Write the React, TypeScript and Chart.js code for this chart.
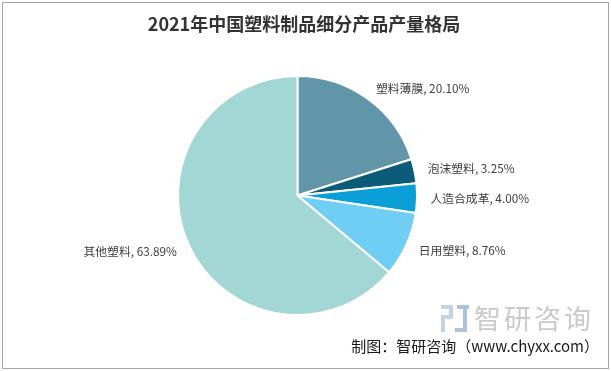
import React, { useEffect, useRef } from "react";
import { Chart, registerables } from "chart.js";

Chart.register(...registerables);

const categories = ["塑料薄膜", "泡沫塑料", "人造合成革", "日用塑料", "其他塑料"];
const shares = [20.1, 3.25, 4.0, 8.76, 63.89];
const colors = ["#6195a8", "#0d5b7b", "#0a9fd6", "#70cdf3", "#a3d7d6"];
const titleText = "2021年中国塑料制品细分产品产量格局";
const sourceText = "制图：智研咨询（www.chyxx.com）";
const logoText = "智研咨询";

const FONT = '"Microsoft YaHei", "Noto Sans CJK SC", sans-serif';

const decorPlugin = {
  id: "decor",
  beforeDraw(chart: any) {
    const { ctx, width, height } = chart;
    ctx.save();
    ctx.fillStyle = "#ffffff";
    ctx.fillRect(0, 0, width, height);
    ctx.strokeStyle = "#a6a6a6";
    ctx.lineWidth = 1;
    ctx.strokeRect(2.5, 2.5, width - 5, height - 5);
    ctx.restore();
  },
  afterDraw(chart: any) {
    const { ctx } = chart;
    ctx.save();
    // title
    ctx.fillStyle = "#333333";
    ctx.font = `bold 18px ${FONT}`;
    ctx.textAlign = "center";
    ctx.textBaseline = "middle";
    ctx.fillText(titleText, 304, 24);

    // labels
    const meta = chart.getDatasetMeta(0);
    ctx.font = `11.8px ${FONT}`;
    ctx.fillStyle = "#404040";
    meta.data.forEach((arc: any, i: number) => {
      const { x, y, startAngle, endAngle } = arc.getProps(["x", "y", "startAngle", "endAngle"], true);
      const mid = (startAngle + endAngle) / 2;
      const R = 133;
      const lx = x + Math.cos(mid) * R;
      const ly = y + Math.sin(mid) * R;
      ctx.textAlign = Math.cos(mid) >= 0 ? "left" : "right";
      ctx.textBaseline = "middle";
      ctx.fillText(`${categories[i]}, ${shares[i].toFixed(2)}%`, lx, ly);
    });

    // logo
    ctx.fillStyle = "#c3d3e0";
    ctx.fillRect(441, 305, 12, 4);
    ctx.fillRect(449, 305, 4, 14);
    ctx.fillRect(441, 315, 12, 4);
    ctx.fillRect(441, 315, 4, 17);
    ctx.fillStyle = "#aac3d8";
    ctx.fillRect(457, 305, 12, 4);
    ctx.fillRect(463, 305, 4, 27);
    ctx.fillRect(455, 328, 12, 4);
    ctx.fillStyle = "#cacaca";
    ctx.font = `27px ${FONT}`;
    ctx.textAlign = "left";
    ctx.textBaseline = "middle";
    let gx = 474;
    for (const ch of logoText) {
      ctx.fillText(ch, gx, 319);
      gx += 30;
    }

    // source
    ctx.fillStyle = "#1a1a1a";
    ctx.font = `15px ${FONT}`;
    ctx.textAlign = "right";
    ctx.fillText(sourceText, 599, 346);
    ctx.restore();
  },
};

export default function App() {
  const ref = useRef<HTMLCanvasElement | null>(null);
  useEffect(() => {
    document.body.style.margin = "0";
    if (!ref.current) return;
    const chart = new Chart(ref.current, {
      type: "pie",
      data: {
        labels: categories,
        datasets: [
          {
            data: shares,
            backgroundColor: colors,
            borderColor: "#ffffff",
            borderWidth: 2,
          },
        ],
      },
      options: {
        responsive: false,
        animation: false,
        layout: { padding: { left: 177, right: 193, top: 75, bottom: 55 } },
        plugins: {
          legend: { display: false },
          tooltip: { enabled: false },
          title: { display: false },
        },
      },
      plugins: [decorPlugin],
    });
    return () => chart.destroy();
  }, []);
  return (
    <div style={{ position: "fixed", left: 0, top: 0, width: 611, height: 371 }}>
      <canvas ref={ref} width={611} height={371} style={{ width: 611, height: 371 }} />
    </div>
  );
}
